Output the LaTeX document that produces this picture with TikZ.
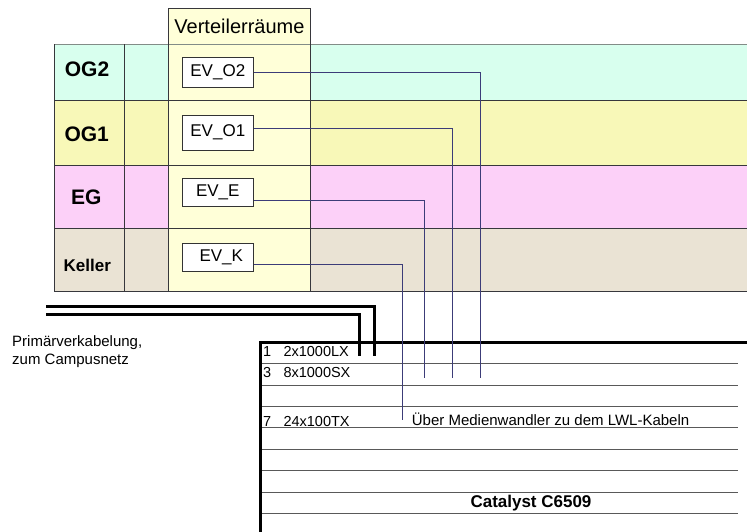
\documentclass[tikz,border=0pt]{standalone}
\usepackage{fontspec}
\setmainfont{Liberation Sans}
\definecolor{og2col}{RGB}{216,255,238}
\definecolor{og1col}{RGB}{248,248,184}
\definecolor{egcol}{RGB}{252,208,248}
\definecolor{kelcol}{RGB}{234,227,212}
\definecolor{vcol}{RGB}{255,255,216}
\definecolor{wirecol}{RGB}{60,60,120}
\definecolor{gridcol}{RGB}{55,55,60}
\definecolor{topcol}{RGB}{130,140,135}
\begin{document}
\begin{tikzpicture}[x=1pt,y=-1pt,
  floorlbl/.style={font=\fontsize{21}{24}\selectfont\bfseries, anchor=base, inner sep=0pt},
  evbox/.style={draw=black!80, fill=white, minimum width=71pt, inner sep=0pt, font=\fontsize{17}{20}\selectfont, line width=0.8pt},
  wire/.style={draw=wirecol, line width=0.9pt},
  cable/.style={draw=black, line width=3pt},
  rowline/.style={draw=gridcol, line width=0.9pt},
  swline/.style={draw=black!65, line width=0.9pt},
  swtext/.style={font=\fontsize{14.5}{17}\selectfont, anchor=base west, inner sep=0pt},
  bigtext/.style={font=\fontsize{15}{18}\selectfont, anchor=base west, inner sep=0pt}
]
\useasboundingbox (0,0) rectangle (747,531);
% row fills
\fill[og2col] (54,44) rectangle (747,100.7);
\fill[og1col] (54,100.7) rectangle (747,165);
\fill[egcol] (54,165) rectangle (747,228.3);
\fill[kelcol] (54,228.3) rectangle (747,291.7);
\fill[vcol] (168,44) rectangle (310,291.7);
% header
\node[draw=gridcol, line width=0.9pt, fill=vcol, minimum width=142pt, minimum height=36pt, anchor=north west, inner sep=0pt, font=\fontsize{20}{24}\selectfont] (hdr) at (168,8) {Verteilerräume};
% grid
\draw[draw=topcol, line width=1pt] (54,44) -- (747,44);
\draw[rowline] (54,100.7) -- (747,100.7);
\draw[rowline] (54,165) -- (747,165);
\draw[rowline] (54,228.3) -- (747,228.3);
\draw[rowline] (54,291.7) -- (747,291.7);
\draw[rowline] (54,44) -- (54,291.7);
\draw[rowline] (124.5,44) -- (124.5,291.7);
\draw[rowline] (168,44) -- (168,291.7);
\draw[rowline] (310,44) -- (310,291.7);
% floor labels
\node[floorlbl] (og2) at (87,76.7) {OG2};
\node[floorlbl] (og1) at (86.7,141.7) {OG1};
\node[floorlbl] (eg) at (86.3,204) {EG};
\node[floorlbl, font=\fontsize{17}{20}\selectfont\bfseries] (keller) at (87.3,271.7) {Keller};
% EV boxes
\node[evbox, minimum height=30pt] (evo2) at (217.8,72.7) {EV\_O2};
\node[evbox, minimum height=35pt] (evo1) at (217.8,132.5) {\raisebox{-4pt}{EV\_O1}};
\node[evbox, minimum height=28.5pt] (eve) at (217.8,192.2) {EV\_E};
\node[evbox, minimum height=28pt] (evk) at (217.8,257) {\hspace*{7pt}\raisebox{1.5pt}{EV\_K}};
% primary cabling
\coordinate (p1s) at (46,306.7);
\coordinate (p1c) at (374,306.7);
\coordinate (p1e) at (374,355.7);
\coordinate (p2s) at (46,314.3);
\coordinate (p2c) at (359.3,314.3);
\coordinate (p2e) at (359.3,355.7);
\draw[cable] (p1s) -- (p1c) -- (p1e);
\draw[cable] (p2s) -- (p2c) -- (p2e);
\node[bigtext] (prim1) at (12,346.7) {Primärverkabelung,};
\node[bigtext] (prim2) at (12,364.3) {zum Campusnetz};
% switch
\foreach \k in {1,...,8} {
  \draw[swline] (260,{342.3+21.4*\k}) -- (738,{342.3+21.4*\k});
}
\coordinate (swtl) at (260,342.3);
\coordinate (swtr) at (747,342.3);
\coordinate (swbl) at (260,531);
\draw[cable, line cap=rect] (swtr) -- (swtl) -- (swbl);
\node[swtext] (n1) at (263,356) {1};
\node[swtext] (t1) at (283.3,356) {2x1000LX};
\node[swtext] (n3) at (263,377) {3};
\node[swtext] (t3) at (283.3,377) {8x1000SX};
\node[swtext] (n7) at (263,426.5) {7};
\node[swtext] (t7) at (283.3,426.5) {24x100TX};
\node[bigtext] (ueber) at (411.7,425) {Über Medienwandler zu dem LWL-Kabeln};
\node[anchor=base, inner sep=0pt, font=\fontsize{17}{20}\selectfont\bfseries] (cat) at (531,507.5) {Catalyst C6509};
% wires
\coordinate (wo2) at (480.7,72.7);
\coordinate (wo2e) at (480.7,378);
\coordinate (wo1) at (452.7,128.5);
\coordinate (wo1e) at (452.7,378);
\coordinate (we) at (424,200.5);
\coordinate (wee) at (424,378);
\coordinate (wk) at (402.5,264);
\coordinate (wke) at (402.5,420);
\draw[wire] (evo2.east) -- (wo2) -- (wo2e);
\draw[wire] (evo1.east |- wo1) -- (wo1) -- (wo1e);
\draw[wire] (eve.east |- we) -- (we) -- (wee);
\draw[wire] (evk.east |- wk) -- (wk) -- (wke);
\end{tikzpicture}
\end{document}
